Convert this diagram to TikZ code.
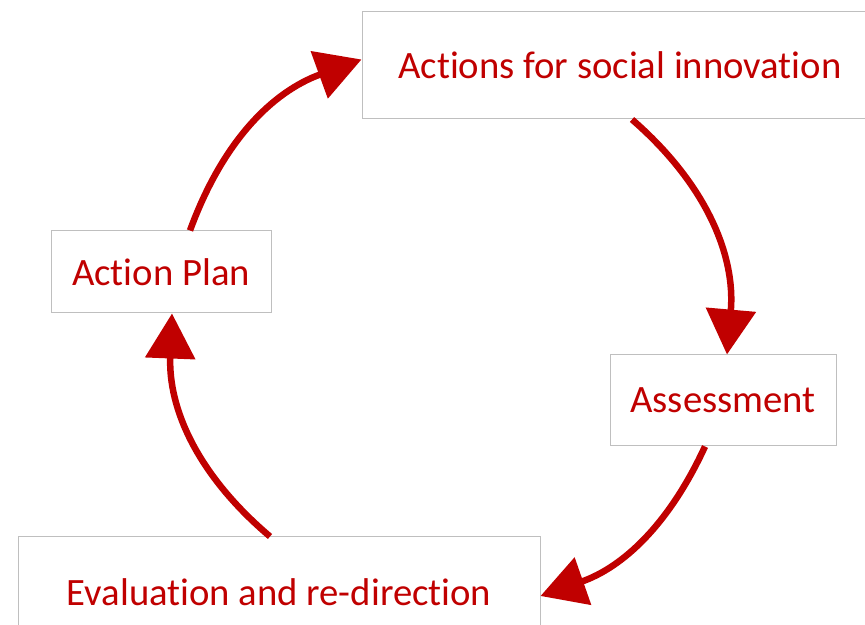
\documentclass[tikz,border=0pt]{standalone}
\usepackage{fontspec}
\setmainfont[Ligatures=CommonOff]{Carlito}
\usetikzlibrary{arrows.meta}
\definecolor{dred}{HTML}{C00000}
\definecolor{bgray}{HTML}{BFBFBF}
\begin{document}
\begin{tikzpicture}[x=1pt,y=1pt,
  box/.style={draw=bgray, line width=1pt, fill=white, text=dred, inner sep=0pt,
    font=\fontsize{38.7}{46}\selectfont},
  cyc/.style={draw=dred, line width=6.5pt, -{Triangle[length=45pt,width=49pt]}}]
\clip (0,0) rectangle (865,624);
\fill[white] (0,0) rectangle (865,624);
\node[box, minimum width=516pt, minimum height=107pt] (top) at (620,558.5) {Actions for social innovation};
\node[box, minimum width=220pt, minimum height=82pt] (ap) at (161,352) {Action Plan};
\node[box, minimum width=226pt, minimum height=91pt] (as) at (723,223.5) {Assessment};
\node[box, minimum width=522pt, minimum height=110pt] (ev) at (279,32) {Evaluation and re-direction};
\draw[cyc] ([xshift=29pt]ap.north) to[bend left=25] ([yshift=6pt]top.west);
\draw[cyc] ([xshift=12pt]top.south) to[bend left=27] ([xshift=4pt]as.north);
\draw[cyc] ([xshift=-18pt]as.south) to[bend left=23] ([yshift=-4pt]ev.east);
\draw[cyc] ([xshift=-9pt]ev.north) to[bend left=26] ([xshift=11pt]ap.south);
\end{tikzpicture}
\end{document}
